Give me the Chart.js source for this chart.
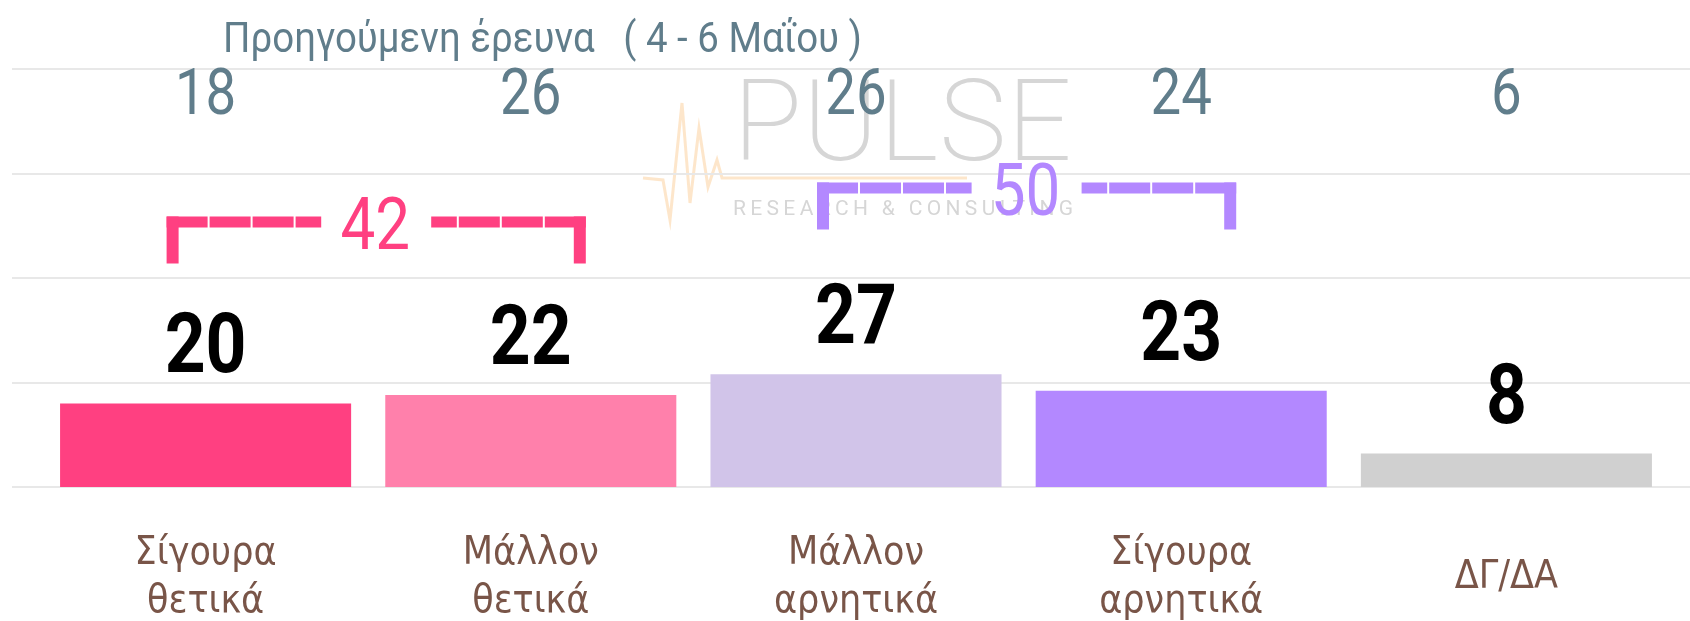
<!DOCTYPE html>
<html lang="el">
<head>
<meta charset="UTF-8">
<title>Προηγούμενη έρευνα</title>
<script src="https://cdn.jsdelivr.net/npm/chart.js"></script>
<style>
  html, body { margin: 0; padding: 0; background: #fff; }
</style>
</head>
<body>
<canvas id="pollChart" width="1690" height="621"></canvas>
<script>
// data
const categories = [['Σίγουρα', 'θετικά'], ['Μάλλον', 'θετικά'], ['Μάλλον', 'αρνητικά'], ['Σίγουρα', 'αρνητικά'], 'ΔΓ/ΔΑ'];
const currentValues = [20, 22, 27, 23, 8];
const previousValues = [18, 26, 26, 24, 6];
const previousLabel = 'Προηγούμενη έρευνα   ( 4 - 6 Μαΐου )';
const groupMembers = [[0, 1], [2, 3]];
const groupTotals = [42, 50];
const yTicks = [0, 25, 50, 75, 100];

const barColors = ['#ff4081', '#ff80ab', '#d1c4e9', '#b388ff', '#d0d0d0'];
const groupColors = ['#ff4081', '#b388ff'];
const NARROW = "'DejaVu Sans Condensed', 'DejaVu Sans', sans-serif";

// Roboto squeezed sideways, standing in for a condensed face
function narrowText(ctx, text, x, y, font, sx, align) {
    ctx.save();
    ctx.font = font;
    ctx.textAlign = align || 'center';
    ctx.textBaseline = 'alphabetic';
    ctx.translate(x, y);
    ctx.scale(sx, 1);
    ctx.fillText(text, 0, 0);
    ctx.restore();
}

// faint PULSE watermark behind everything
const logoPlugin = {
    id: 'logo',
    beforeDraw(chart) {
        const ctx = chart.ctx;
        ctx.save();
        ctx.strokeStyle = 'rgba(251, 200, 140, 0.45)';
        ctx.lineWidth = 3;
        ctx.beginPath();
        [[643,178],[663,180],[670,220],[682,103],[690,203],[699,128],[708,187],[717,160],[722,178],[967,178]]
            .forEach((p, i) => i ? ctx.lineTo(p[0], p[1]) : ctx.moveTo(p[0], p[1]));
        ctx.stroke();

        ctx.fillStyle = '#d6d6d6';
        ctx.textAlign = 'left';
        ctx.textBaseline = 'alphabetic';
        ctx.font = '200 114px Roboto';
        let w = ctx.measureText('PULSE').width;
        ctx.letterSpacing = Math.max(0, (339 - w) / 4) + 'px';
        ctx.fillText('PULSE', 733, 160);
        ctx.letterSpacing = '0px';
        ctx.font = '400 21px Roboto';
        const sub = 'RESEARCH & CONSULTING';
        w = ctx.measureText(sub).width;
        ctx.letterSpacing = Math.max(0, (340 - w) / (sub.length - 1)) + 'px';
        ctx.fillText(sub, 733, 215);
        ctx.restore();
    }
};

// grid lines run past the plot area, almost edge to edge
const gridPlugin = {
    id: 'wideGrid',
    beforeDatasetsDraw(chart) {
        const ctx = chart.ctx, y = chart.scales.y;
        ctx.save();
        ctx.strokeStyle = '#e8e8e8';
        ctx.lineWidth = 2;
        y.ticks.forEach(t => {
            const py = Math.round(y.getPixelForValue(t.value));
            ctx.beginPath();
            ctx.moveTo(12, py);
            ctx.lineTo(chart.width, py);
            ctx.stroke();
        });
        ctx.restore();
    }
};

const notesPlugin = {
    id: 'notes',
    afterDatasetsDraw(chart) {
        const ctx = chart.ctx;
        const bars = chart.getDatasetMeta(0).data;
        const top = chart.chartArea.top;
        ctx.save();

        // current values above bars
        ctx.fillStyle = '#000';
        bars.forEach((b, i) => narrowText(ctx, String(currentValues[i]), b.x, b.y - 31, '700 83px Roboto', 0.86));

        // previous survey row
        ctx.fillStyle = '#607d8b';
        bars.forEach((b, i) => narrowText(ctx, String(previousValues[i]), b.x, top + 45, '400 65px Roboto', 0.84));
        ctx.font = '400 42px Roboto';
        const tw = ctx.measureText(previousLabel).width;
        narrowText(ctx, previousLabel, chart.chartArea.left + 180, top - 17, '400 42px Roboto', 639 / tw, 'left');

        // brackets with group sums
        const bandY = [222, 188];
        groupMembers.forEach((members, g) => {
            const first = bars[members[0]], last = bars[members[members.length - 1]];
            const left = first.x - 39, right = last.x + 55, mid = (left + right) / 2;
            const cy = bandY[g];
            ctx.strokeStyle = groupColors[g];
            ctx.fillStyle = groupColors[g];
            ctx.lineWidth = 11;
            ctx.setLineDash([41, 2]);
            ctx.beginPath();
            ctx.moveTo(left, cy); ctx.lineTo(mid - 55, cy);
            ctx.moveTo(right, cy); ctx.lineTo(mid + 55, cy);
            ctx.stroke();
            ctx.setLineDash([]);
            ctx.fillRect(left, cy - 5.5, 12, 47);
            ctx.fillRect(right - 12, cy - 5.5, 12, 47);
            narrowText(ctx, String(groupTotals[g]), mid - 1, cy + 27, '400 72px Roboto', 0.86);
        });
        ctx.restore();
    }
};

new Chart(document.getElementById('pollChart'), {
    type: 'bar',
    data: {
        labels: categories,
        datasets: [{
            data: currentValues,
            backgroundColor: barColors,
            barPercentage: 0.895,
            categoryPercentage: 1
        }]
    },
    options: {
        responsive: false,
        animation: false,
        devicePixelRatio: 1,
        layout: { padding: { top: 69, left: 43, right: 21, bottom: 0 } },
        plugins: { legend: { display: false }, tooltip: { enabled: false } },
        scales: {
            x: {
                grid: { display: false },
                border: { display: false },
                ticks: {
                    color: '#795548',
                    font: { family: NARROW, size: 39, lineHeight: 1.23 },
                    padding: 59,
                    crossAlign: 'center',
                    maxRotation: 0,
                    autoSkip: false
                },
                afterFit: s => { s.height = 134; }
            },
            y: {
                min: 0,
                max: 100,
                afterBuildTicks: s => { s.ticks = yTicks.map(v => ({ value: v })); },
                grid: { display: false },
                border: { display: false },
                ticks: { display: false },
                afterFit: s => { s.width = 0; }
            }
        }
    },
    plugins: [logoPlugin, gridPlugin, notesPlugin]
});
</script>
</body>
</html>
